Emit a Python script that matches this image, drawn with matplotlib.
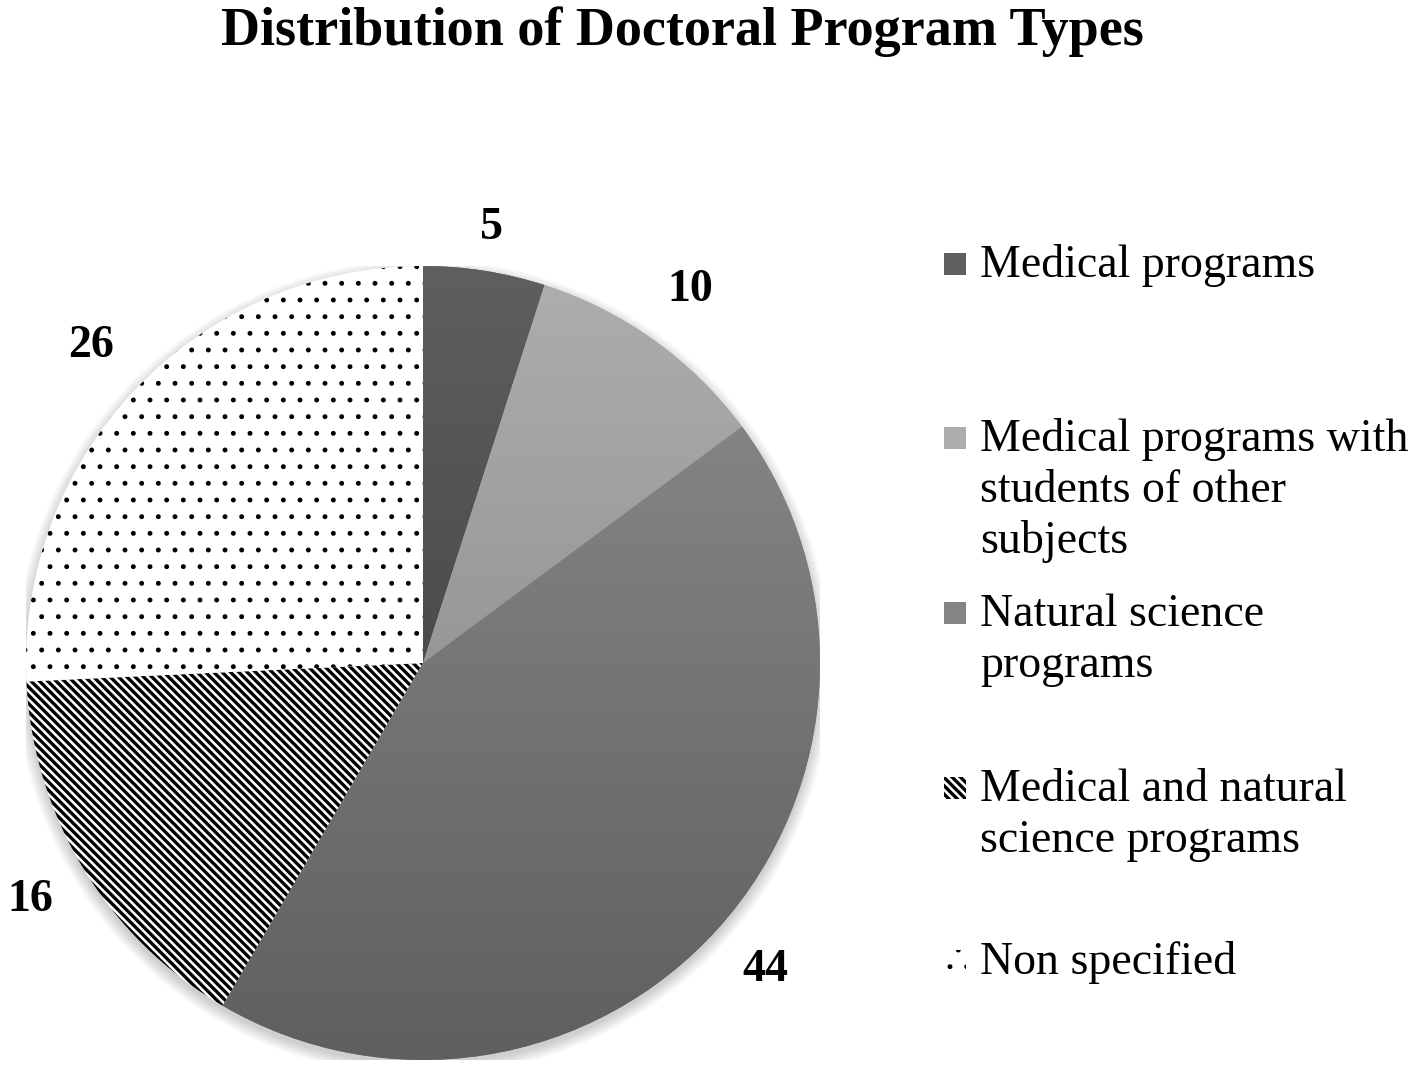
import numpy as np
import matplotlib
matplotlib.use("Agg")
import matplotlib.pyplot as plt
from matplotlib.colors import LinearSegmentedColormap
from matplotlib.patches import Rectangle, Circle

# data
categories = ["Medical programs",
              "Medical programs with\nstudents of other\nsubjects",
              "Natural science\nprograms",
              "Medical and natural\nscience programs",
              "Non specified"]
counts = [5, 10, 44, 16, 26]

# styles (top colour, bottom colour) for gradient fills, None -> hatch
grad_colors = [("#5f5f5f", "#4b4b4b"),
               ("#adadad", "#979797"),
               ("#848484", "#5f5f5f"),
               None,
               None]
hatches = [None, None, None, "\\\\\\\\", "."]
hatch_lw = [None, None, None, 2.4, 1.1]
label_dist = [1.11, 1.155, 1.16, 1.155, 1.155]

plt.rcParams["font.family"] = ["Liberation Serif", "DejaVu Serif"]
plt.rcParams["hatch.linewidth"] = 2.2

W, H = 1418, 1085
fig = plt.figure(figsize=(W / 100, H / 100), dpi=100)

cx, cy, r = 423, 663, 397
ax = fig.add_axes([(cx - r) / W, (H - cy - r) / H, 2 * r / W, 2 * r / H])

wedges, texts = ax.pie(counts, startangle=90, counterclock=False, radius=1,
                       labels=[str(c) for c in counts], labeldistance=1.15,
                       wedgeprops=dict(linewidth=0, edgecolor="black"),
                       textprops=dict(fontsize=33, fontweight="bold", color="black"))
for w, t, d in zip(wedges, texts, label_dist):
    ang = np.deg2rad((w.theta1 + w.theta2) / 2)
    t.set_position((d * np.cos(ang), d * np.sin(ang)))
    t.set_ha("center")
    t.set_va("center")

# soft shadow under the pie
for i in range(8):
    sh = Circle((0.0, -0.012), 1 + 0.004 * i, facecolor="black", alpha=0.025,
                linewidth=0, zorder=0)
    ax.add_patch(sh)

grad = np.linspace(0, 1, 256).reshape(-1, 1)
for w, gc, h, hl in zip(wedges, grad_colors, hatches, hatch_lw):
    w.set_zorder(2)
    if gc is not None:
        w.set_facecolor(gc[0])
        cmap = LinearSegmentedColormap.from_list("g", [gc[0], gc[1]])
        bb = w.get_path().get_extents()
        im = ax.imshow(grad, cmap=cmap, aspect="auto", zorder=3,
                       extent=[bb.x0, bb.x1, bb.y0, bb.y1], origin="upper")
        im.set_clip_path(w)
    else:
        w.set_facecolor("white")
        w.set_hatch(h)
        if hasattr(w, "set_hatch_linewidth"):
            w.set_hatch_linewidth(hl)

ax.set_xlim(-1, 1)
ax.set_ylim(-1, 1)
ax.set_aspect("equal")
ax.axis("off")

# title
fig.text(682 / W, 1 - 45 / H, "Distribution of Doctoral Program Types",
         ha="center", va="baseline", fontsize=39, fontweight="bold")

# legend, laid out by hand like the original
leg_base = [277, 451, 626, 801, 974]
line_px = 51
for lab, yb, gc, h, hl in zip(categories, leg_base, grad_colors, hatches, hatch_lw):
    n = lab.count("\n")
    fig.text(980 / W, 1 - (yb + n * line_px) / H, lab, ha="left", va="baseline",
             fontsize=33, linespacing=1.25)
    x0, y0, s = 944, yb - 24, 22
    rect = Rectangle((x0 / W, 1 - (y0 + s) / H), s / W, s / H,
                     transform=fig.transFigure, linewidth=0, edgecolor="black")
    if gc is not None:
        rect.set_facecolor(gc[0])
    else:
        rect.set_facecolor("white")
        rect.set_hatch(h)
        if hasattr(rect, "set_hatch_linewidth"):
            rect.set_hatch_linewidth(hl)
    fig.add_artist(rect)

fig.savefig("out.png", dpi=100, facecolor="white")
